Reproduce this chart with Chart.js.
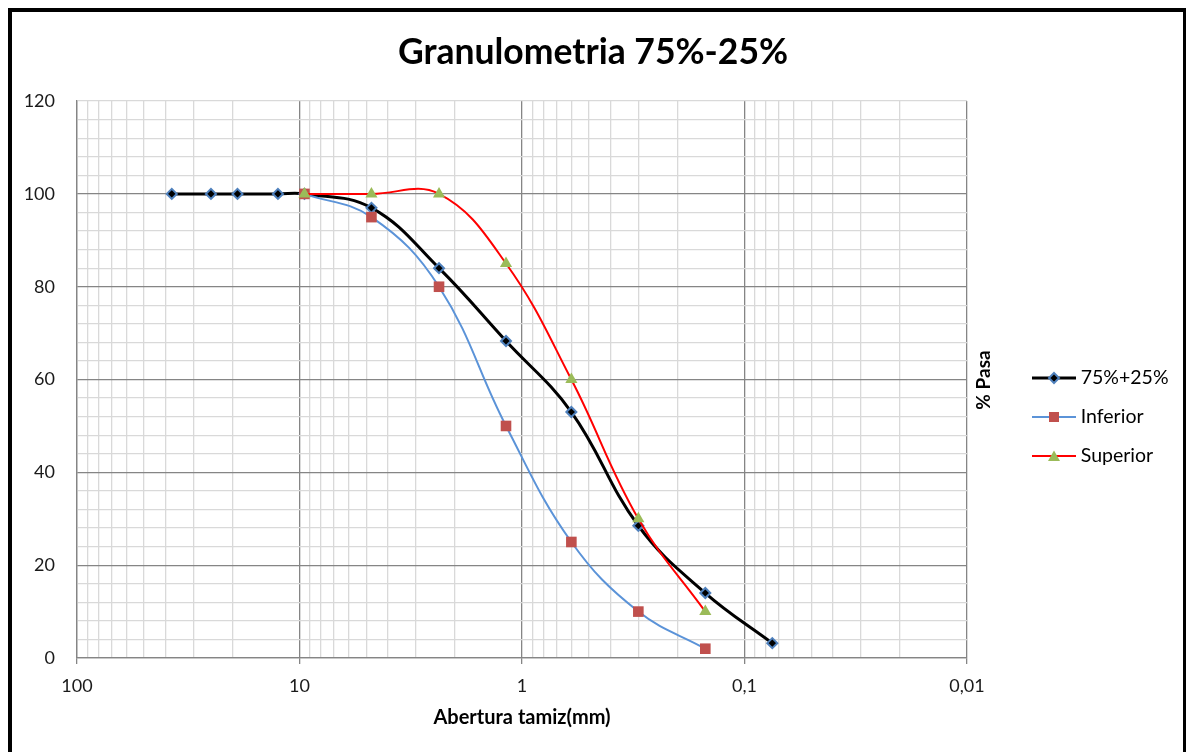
<!DOCTYPE html>
<html lang="es">
<head>
    <meta charset="UTF-8">
    <title>Granulometria 75%-25%</title>
    <script src="https://cdn.jsdelivr.net/npm/chart.js"></script>
    <style>
        body { margin: 0; background: #fff; }
        #grafico { display: block; }
    </style>
</head>
<body>
    <canvas id="grafico" width="1186" height="752"></canvas>
<script>
    // tamices (mm) y % que pasa
    var tamicesMezcla = [37.5, 25, 19, 12.5, 9.5, 4.75, 2.36, 1.18, 0.6, 0.3, 0.15, 0.075];
    var pasaMezcla = [100, 100, 100, 100, 100, 97, 84, 68.3, 53, 28.5, 14, 3.2];
    var tamicesLimites = [9.5, 4.75, 2.36, 1.18, 0.6, 0.3, 0.15];
    var pasaInferior = [100, 95, 80, 50, 25, 10, 2];
    var pasaSuperior = [100, 100, 100, 85, 60, 30, 10];

    var decadas = [100, 10, 1, 0.1, 0.01];
    var etiquetasDecadas = ['100', '10', '1', '0,1', '0,01'];

    var FUENTE = 'Lato, "Open Sans", sans-serif';
    var GRIS_FUERTE = '#858585';
    var GRIS_SUAVE = '#d9d9d9';

    function puntos(xs, ys) {
        return xs.map(function (x, i) { return { x: x, y: ys[i] }; });
    }

    function esDecada(v) {
        var l = Math.log10(v);
        return Math.abs(l - Math.round(l)) < 1e-6;
    }

    // icono de leyenda: linea con marcador en el medio
    function iconoLeyenda(colorLinea, grosor, marcador) {
        var c = document.createElement('canvas');
        c.width = 44; c.height = 16;
        var g = c.getContext('2d');
        g.strokeStyle = colorLinea;
        g.lineWidth = grosor;
        g.beginPath(); g.moveTo(0, 8); g.lineTo(44, 8); g.stroke();
        if (marcador == 'diamante') {
            g.beginPath();
            g.moveTo(22, 3); g.lineTo(27, 8); g.lineTo(22, 13); g.lineTo(17, 8); g.closePath();
            g.fillStyle = '#000'; g.fill();
            g.strokeStyle = '#4F81BD'; g.lineWidth = 2; g.stroke();
        } else if (marcador == 'cuadro') {
            g.fillStyle = '#C0504D';
            g.fillRect(17, 3, 10, 10);
        } else {
            g.fillStyle = '#9BBB59';
            g.beginPath(); g.moveTo(22, 2.5); g.lineTo(28, 13); g.lineTo(16, 13); g.closePath(); g.fill();
        }
        return c;
    }
    var iconos = [
        iconoLeyenda('#000', 3, 'diamante'),
        iconoLeyenda('#5B93D8', 2, 'cuadro'),
        iconoLeyenda('#FF0000', 2, 'triangulo')
    ];

    var marco = {
        id: 'marco',
        afterDraw: function (chart) {
            var ctx = chart.ctx;
            ctx.save();
            ctx.strokeStyle = '#000';
            ctx.lineWidth = 4;
            ctx.strokeRect(10, 10, 1175, 800);
            // titulo del eje vertical, entre el grafico y la leyenda
            ctx.translate(984, 380);
            ctx.rotate(-Math.PI / 2);
            ctx.font = 'bold 19px ' + FUENTE;
            ctx.fillStyle = '#000';
            ctx.textAlign = 'center';
            ctx.textBaseline = 'middle';
            ctx.fillText('% Pasa', 0, 0);
            ctx.restore();
        }
    };

    var moverLeyenda = {
        id: 'moverLeyenda',
        afterLayout: function (chart) {
            var lg = chart.legend;
            var w = lg.width, h = lg.height;
            lg.left = 1037 - lg.options.labels.padding;
            lg.right = lg.left + w;
            lg.top = 417 - h / 2;
            lg.bottom = lg.top + h;
        }
    };

    const chart = new Chart('grafico', {
        type: 'line',
        data: {
            datasets: [{
                label: '75%+25%',
                data: puntos(tamicesMezcla, pasaMezcla),
                borderColor: '#000',
                borderWidth: 3,
                tension: 0.4,
                pointStyle: 'rectRot',
                pointRadius: 5,
                pointBackgroundColor: '#000',
                pointBorderColor: '#4F81BD',
                pointBorderWidth: 2,
                order: 3
            }, {
                label: 'Inferior',
                data: puntos(tamicesLimites, pasaInferior),
                borderColor: '#5B93D8',
                borderWidth: 2,
                tension: 0.4,
                pointStyle: 'rect',
                pointRadius: 7.5,
                pointBackgroundColor: '#C0504D',
                pointBorderColor: '#C0504D',
                pointBorderWidth: 0,
                order: 2
            }, {
                label: 'Superior',
                data: puntos(tamicesLimites, pasaSuperior),
                borderColor: '#FF0000',
                borderWidth: 2,
                tension: 0.4,
                pointStyle: 'triangle',
                pointRadius: 7,
                pointBackgroundColor: '#9BBB59',
                pointBorderColor: '#9BBB59',
                pointBorderWidth: 0,
                order: 1
            }]
        },
        options: {
            responsive: false,
            animation: false,
            layout: { padding: 0 },
            plugins: {
                tooltip: { enabled: false },
                title: {
                    display: true,
                    text: 'Granulometria 75%-25%',
                    color: '#000',
                    font: { family: FUENTE, size: 35.5, weight: 'bold' },
                    padding: { top: 31, bottom: 27.5 }
                },
                legend: {
                    position: 'right',
                    labels: {
                        usePointStyle: true,
                        pointStyleWidth: 34,
                        padding: 19.5,
                        color: '#000',
                        font: { family: FUENTE, size: 19.5 },
                        generateLabels: function (chart) {
                            var items = Chart.defaults.plugins.legend.labels.generateLabels(chart);
                            items.sort(function (a, b) { return a.datasetIndex - b.datasetIndex; });
                            items.forEach(function (it) { it.pointStyle = iconos[it.datasetIndex]; });
                            return items;
                        }
                    }
                }
            },
            scales: {
                x: {
                    type: 'logarithmic',
                    reverse: true,
                    min: 0.01,
                    max: 100,
                    afterBuildTicks: function (scale) {
                        var t = [];
                        for (var e = -2; e <= 1; e++) {
                            for (var m = 1; m <= 9; m++) {
                                t.push({ value: Number((m * Math.pow(10, e)).toPrecision(6)) });
                            }
                        }
                        t.push({ value: 100 });
                        scale.ticks = t;
                    },
                    afterFit: function (scale) { scale.height = 94; },
                    ticks: {
                        autoSkip: false,
                        maxRotation: 0,
                        padding: 11,
                        color: '#1a1a1a',
                        font: { family: FUENTE, size: 18 },
                        callback: function (v) {
                            var i = decadas.findIndex(function (d) { return Math.abs(d - v) < d * 1e-6; });
                            return i >= 0 ? etiquetasDecadas[i] : '';
                        }
                    },
                    grid: {
                        color: function (c) { return esDecada(c.tick.value) ? GRIS_FUERTE : GRIS_SUAVE; },
                        tickColor: function (c) { return esDecada(c.tick.value) ? GRIS_FUERTE : 'rgba(0,0,0,0)'; },
                        tickLength: 6,
                        lineWidth: 1.3
                    },
                    border: { color: GRIS_FUERTE, width: 1.3 },
                    title: {
                        display: true,
                        text: 'Abertura tamiz(mm)',
                        color: '#000',
                        font: { family: FUENTE, size: 20, weight: 'bold' },
                        padding: { top: 0, bottom: 22 }
                    }
                },
                y: {
                    min: 0,
                    max: 120,
                    afterFit: function (scale) { scale.width = 77; },
                    ticks: {
                        stepSize: 4,
                        autoSkip: false,
                        padding: 22,
                        color: '#1a1a1a',
                        font: { family: FUENTE, size: 18 },
                        callback: function (v) { return v % 20 === 0 ? v : ''; }
                    },
                    grid: {
                        drawTicks: false,
                        color: function (c) {
                            var v = c.tick.value;
                            return (v % 20 === 0 && v < 120) ? GRIS_FUERTE : GRIS_SUAVE;
                        },
                        lineWidth: 1.3
                    },
                    border: { color: GRIS_FUERTE, width: 1.3 }
                },
                y2: {
                    position: 'right',
                    display: true,
                    ticks: { display: false },
                    grid: { display: false },
                    border: { display: false },
                    afterFit: function (scale) {
                        scale.width = 1186 - 967 - scale.chart.legend.width;
                    }
                }
            }
        },
        plugins: [marco, moverLeyenda]
    });
</script>
</body>
</html>
